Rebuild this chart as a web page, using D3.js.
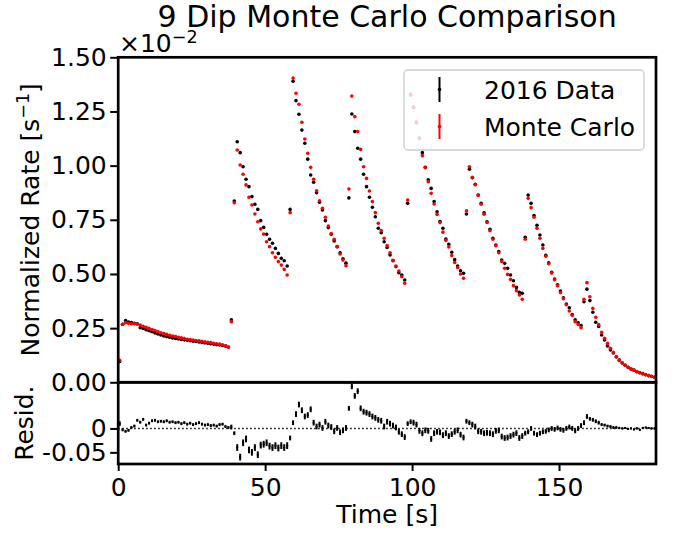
<!DOCTYPE html>
<html><head><meta charset="utf-8">
<script src="https://cdn.jsdelivr.net/npm/d3@7"></script>
<style>body{margin:0;background:#fff}svg{display:block}</style>
</head><body><svg id="c" width="673" height="533"></svg>
<script>
// ---- data (rates in units of 1e-2 s^-1) ----
const timeBins = [0.5,1.5,2.5,3.5,4.5,5.5,6.5,7.5,8.5,9.5,10.5,11.5,12.5,13.5,14.5,15.5,16.5,17.5,18.5,19.5,
20.5,21.5,22.5,23.5,24.5,25.5,26.5,27.5,28.5,29.5,30.5,31.5,32.5,33.5,34.5,35.5,36.5,37.5,38.5,39.5,
40.5,41.5,42.5,43.5,44.5,45.5,46.5,47.5,48.5,49.5,50.5,51.5,52.5,53.5,54.5,55.5,56.5,57.5,58.5,59.5,
60.5,61.5,62.5,63.5,64.5,65.5,66.5,67.5,68.5,69.5,70.5,71.5,72.5,73.5,74.5,75.5,76.5,77.5,78.5,79.5,
80.5,81.5,82.5,83.5,84.5,85.5,86.5,87.5,88.5,89.5,90.5,91.5,92.5,93.5,94.5,95.5,96.5,97.5,98.5,99.5,
100.5,101.5,102.5,103.5,104.5,105.5,106.5,107.5,108.5,109.5,110.5,111.5,112.5,113.5,114.5,115.5,116.5,117.5,118.5,119.5,
120.5,121.5,122.5,123.5,124.5,125.5,126.5,127.5,128.5,129.5,130.5,131.5,132.5,133.5,134.5,135.5,136.5,137.5,138.5,139.5,
140.5,141.5,142.5,143.5,144.5,145.5,146.5,147.5,148.5,149.5,150.5,151.5,152.5,153.5,154.5,155.5,156.5,157.5,158.5,159.5,
160.5,161.5,162.5,163.5,164.5,165.5,166.5,167.5,168.5,169.5,170.5,171.5,172.5,173.5,174.5,175.5,176.5,177.5,178.5,179.5,
180.5,181.5,182.5];

const dataRate = [
0.096,0.268,0.285,0.278,0.276,0.272,0.270,0.252,0.248,0.243,
0.238,0.233,0.228,0.223,0.218,0.214,0.211,0.208,0.205,0.202,
0.200,0.198,0.196,0.194,0.192,0.190,0.188,0.186,0.184,0.182,
0.180,0.178,0.176,0.174,0.172,0.170,0.167,0.163,0.288,0.837,
1.110,1.060,0.995,0.937,0.903,0.857,0.822,0.798,0.746,0.715,
0.683,0.660,0.642,0.618,0.595,0.572,0.561,0.537,0.798,1.390,
1.300,1.237,1.164,1.103,1.030,0.957,0.923,0.875,0.831,0.795,
0.746,0.714,0.683,0.652,0.626,0.598,0.570,0.550,0.851,1.238,
1.157,1.080,1.030,0.960,0.903,0.854,0.808,0.764,0.711,0.690,
0.649,0.622,0.588,0.561,0.534,0.506,0.495,0.472,0.826,1.326,
1.268,1.198,1.127,1.060,0.992,0.935,0.895,0.834,0.787,0.742,
0.711,0.661,0.637,0.600,0.566,0.537,0.515,0.503,0.777,0.983,
0.944,0.914,0.864,0.826,0.782,0.741,0.706,0.665,0.634,0.603,
0.564,0.549,0.526,0.495,0.469,0.438,0.415,0.411,0.669,0.864,
0.826,0.770,0.725,0.680,0.634,0.586,0.551,0.508,0.477,0.450,
0.421,0.390,0.361,0.344,0.313,0.288,0.275,0.262,0.372,0.430,
0.377,0.323,0.277,0.258,0.218,0.195,0.168,0.149,0.135,0.117,
0.102,0.089,0.079,0.069,0.061,0.056,0.049,0.044,0.040,0.035,
0.031,0.028,0.023];

const mcRate = [
0.101,0.268,0.275,0.272,0.270,0.271,0.268,0.264,0.259,0.254,
0.249,0.244,0.239,0.234,0.229,0.225,0.221,0.217,0.214,0.211,
0.208,0.205,0.202,0.199,0.197,0.195,0.193,0.191,0.189,0.187,
0.185,0.183,0.180,0.178,0.176,0.173,0.169,0.162,0.280,0.829,
1.072,1.003,0.960,0.911,0.854,0.818,0.777,0.741,0.708,0.684,
0.649,0.626,0.598,0.577,0.557,0.541,0.521,0.495,0.783,1.404,
1.334,1.283,1.200,1.123,1.057,0.992,0.937,0.884,0.838,0.803,
0.762,0.721,0.686,0.660,0.626,0.592,0.564,0.538,0.892,1.321,
1.226,1.157,1.075,0.995,0.941,0.883,0.834,0.783,0.734,0.700,
0.665,0.631,0.598,0.563,0.536,0.514,0.487,0.457,0.841,1.330,
1.272,1.202,1.125,1.046,0.990,0.926,0.872,0.823,0.775,0.737,
0.693,0.655,0.625,0.585,0.553,0.530,0.500,0.480,0.792,0.995,
0.946,0.912,0.862,0.822,0.776,0.738,0.700,0.660,0.630,0.598,
0.558,0.526,0.498,0.475,0.446,0.423,0.403,0.383,0.660,0.849,
0.806,0.762,0.711,0.665,0.618,0.582,0.547,0.504,0.473,0.446,
0.414,0.386,0.358,0.329,0.309,0.280,0.267,0.252,0.383,0.460,
0.395,0.341,0.300,0.266,0.231,0.203,0.180,0.157,0.138,0.119,
0.104,0.090,0.080,0.069,0.061,0.056,0.049,0.044,0.039,0.035,
0.031,0.027,0.023];

const residual = [
0.010,-0.003,-0.006,-0.004,0.002,0.005,0.017,0.013,0.019,0.007,
0.011,0.016,0.017,0.014,0.015,0.014,0.016,0.013,0.014,0.012,
0.013,0.010,0.012,0.009,0.011,0.008,0.010,0.012,0.009,0.007,
0.008,0.006,0.007,0.005,0.008,0.009,0.004,0.002,0.003,-0.010,
-0.040,-0.060,-0.030,-0.022,-0.045,-0.050,-0.040,-0.055,-0.035,-0.033,
-0.030,-0.037,-0.040,-0.036,-0.041,-0.036,-0.040,-0.036,-0.020,0.012,
0.030,0.050,0.038,0.025,0.028,0.040,0.012,0.004,0.008,0.001,
0.014,0.006,0.003,-0.006,0.001,-0.008,-0.004,0.001,0.042,0.088,
0.068,0.078,0.042,0.035,0.033,0.030,0.025,0.022,0.018,0.016,
0.004,0.014,0.010,0.006,0.002,-0.007,-0.012,-0.018,0.010,0.014,
0.012,0.008,-0.005,-0.010,-0.004,-0.005,-0.022,-0.010,-0.007,-0.008,
-0.014,-0.010,-0.016,-0.012,-0.007,-0.004,-0.013,-0.019,0.015,0.012,
0.008,0.004,-0.006,-0.007,-0.010,-0.009,-0.010,-0.012,-0.005,-0.004,
-0.017,-0.020,-0.019,-0.016,-0.013,-0.010,-0.020,-0.016,-0.010,-0.007,
0.000,-0.010,-0.013,-0.010,-0.007,-0.006,-0.003,0.000,-0.002,0.001,
-0.002,-0.004,0.000,0.003,0.000,-0.005,0.000,0.006,0.012,0.025,
0.020,0.018,0.015,0.012,0.008,0.007,0.005,0.004,0.002,0.002,
0.001,0.000,0.001,-0.001,0.000,-0.002,0.000,-0.003,0.001,0.002,
0.001,0.000,0.000];

const residualErr = [
0.005,0.003,0.003,0.003,0.003,0.003,0.003,0.003,0.003,0.003,
0.003,0.003,0.003,0.003,0.003,0.003,0.003,0.003,0.003,0.003,
0.003,0.003,0.003,0.003,0.003,0.003,0.003,0.003,0.003,0.003,
0.003,0.003,0.003,0.003,0.003,0.003,0.003,0.003,0.005,0.004,
0.007,0.007,0.007,0.007,0.007,0.007,0.007,0.007,0.007,0.007,
0.007,0.007,0.007,0.007,0.007,0.007,0.007,0.007,0.005,0.005,
0.006,0.006,0.006,0.006,0.006,0.006,0.006,0.006,0.006,0.006,
0.006,0.006,0.006,0.006,0.006,0.006,0.006,0.006,0.005,0.006,
0.006,0.006,0.006,0.006,0.006,0.006,0.006,0.006,0.006,0.006,
0.006,0.006,0.006,0.006,0.006,0.006,0.006,0.006,0.005,0.005,
0.006,0.006,0.006,0.006,0.006,0.006,0.006,0.006,0.006,0.006,
0.006,0.006,0.006,0.006,0.006,0.006,0.006,0.006,0.005,0.005,
0.006,0.006,0.006,0.006,0.006,0.006,0.006,0.006,0.006,0.006,
0.006,0.006,0.006,0.006,0.006,0.006,0.006,0.006,0.005,0.005,
0.005,0.005,0.005,0.005,0.005,0.005,0.005,0.005,0.005,0.005,
0.005,0.005,0.005,0.005,0.005,0.005,0.005,0.005,0.005,0.005,
0.004,0.004,0.004,0.004,0.003,0.003,0.003,0.003,0.003,0.003,
0.002,0.002,0.002,0.002,0.002,0.002,0.002,0.002,0.002,0.002,
0.002,0.002,0.002];

const xTicks = [0, 50, 100, 150];
const yTicksMain = [0, 0.25, 0.5, 0.75, 1.0, 1.25, 1.5];
const yTickLabelsMain = ["0.00","0.25","0.50","0.75","1.00","1.25","1.50"];
const yTicksResid = [-0.05, 0];
const yTickLabelsResid = ["-0.05", "0"];
const seriesNames = ["2016 Data", "Monte Carlo"];
const seriesColors = ["#000000", "#ff0000"];

// ---- layout ----
const FONT = "DejaVu Sans";
const L = 118.2, R = 656, T = 57.3, MB = 382.3, RB = 464;
const svg = d3.select("#c");
svg.append("rect").attr("width",673).attr("height",533).attr("fill","#fff");

const x = d3.scaleLinear().domain([0, 183]).range([L, R]);
const y = d3.scaleLinear().domain([0, 1.5]).range([MB, T]);
const yr = d3.scaleLinear().domain([-0.0744, 0.0965]).range([RB, MB]);

function styleAxis(g){
  g.attr("font-family", FONT).attr("font-size", 25);
  g.select(".domain").remove();
  g.selectAll(".tick line").attr("stroke","#000").attr("stroke-width",2);
  g.selectAll(".tick text").attr("fill","#000");
}

// residual zero line
svg.append("line").attr("x1",L).attr("x2",R).attr("y1",yr(0)).attr("y2",yr(0))
  .attr("stroke","#000").attr("stroke-width",1.5).attr("stroke-dasharray","1.5,2.5");

// residual error bars
const rg = svg.append("g");
rg.selectAll("line").data(timeBins).join("line")
  .attr("x1",(d)=>x(d)).attr("x2",(d)=>x(d))
  .attr("y1",(d,i)=>yr(residual[i]-residualErr[i]))
  .attr("y2",(d,i)=>yr(residual[i]+residualErr[i]))
  .attr("stroke","#000").attr("stroke-width",2);
rg.selectAll("circle").data(timeBins).join("circle")
  .attr("cx",(d)=>x(d)).attr("cy",(d,i)=>yr(residual[i])).attr("r",1.1).attr("fill","#000");

// main points
const series = [dataRate, mcRate];
series.forEach((vals, si) => {
  svg.append("g").selectAll("circle").data(timeBins).join("circle")
    .attr("cx",(d)=>x(d)).attr("cy",(d,i)=>y(vals[i])).attr("r",1.8)
    .attr("fill", seriesColors[si]);
});

// axes
const gyl = svg.append("g").attr("transform",`translate(${L},0)`)
  .call(d3.axisLeft(y).tickValues(yTicksMain).tickFormat((d,i)=>yTickLabelsMain[i]).tickSize(8).tickPadding(3.5));
styleAxis(gyl);
const gyr = svg.append("g").attr("transform",`translate(${L},0)`)
  .call(d3.axisLeft(yr).tickValues(yTicksResid).tickFormat((d,i)=>yTickLabelsResid[i]).tickSize(8).tickPadding(3.5));
styleAxis(gyr);
const gx = svg.append("g").attr("transform",`translate(0,${RB})`)
  .call(d3.axisBottom(x).tickValues(xTicks).tickFormat(d3.format("d")).tickSize(7).tickPadding(7));
styleAxis(gx);

// frames
svg.append("rect").attr("x",L).attr("y",T).attr("width",R-L).attr("height",MB-T)
  .attr("fill","none").attr("stroke","#000").attr("stroke-width",2.7);
svg.append("rect").attr("x",L).attr("y",MB).attr("width",R-L).attr("height",RB-MB)
  .attr("fill","none").attr("stroke","#000").attr("stroke-width",2.7);

// legend
const lg = svg.append("g");
lg.append("rect").attr("x",404).attr("y",70).attr("width",240).attr("height",80).attr("rx",4)
  .attr("fill","#fff").attr("fill-opacity",0.8).attr("stroke","#cccccc").attr("stroke-width",1.3);
seriesNames.forEach((name, i) => {
  const cy = 89.5 + i*37;
  lg.append("line").attr("x1",439.5).attr("x2",439.5).attr("y1",cy-12.5).attr("y2",cy+12.5)
    .attr("stroke",seriesColors[i]).attr("stroke-width",2);
  lg.append("circle").attr("cx",439.5).attr("cy",cy).attr("r",1.8).attr("fill",seriesColors[i]);
  lg.append("text").attr("x",484).attr("y",cy+9).attr("font-family",FONT).attr("font-size",25)
    .attr("fill","#000").text(name);
});

// title & labels
svg.append("text").attr("x",(L+R)/2).attr("y",27).attr("text-anchor","middle")
  .attr("font-family",FONT).attr("font-size",30).attr("fill","#000").text("9 Dip Monte Carlo Comparison");

const off = svg.append("text").attr("x",119).attr("y",52).attr("font-family",FONT).attr("font-size",25).attr("fill","#000");
off.append("tspan").text("×10");
off.append("tspan").attr("font-size",17.5).attr("dy",-9).text("−2");

const yl = svg.append("text").attr("transform",`translate(39,${(T+MB)/2}) rotate(-90)`)
  .attr("text-anchor","middle").attr("font-family",FONT).attr("font-size",25).attr("fill","#000");
yl.append("tspan").text("Normalized Rate [s");
yl.append("tspan").attr("font-size",17.5).attr("dy",-10).text("−1");
yl.append("tspan").attr("dy",10).text("]");

svg.append("text").attr("transform",`translate(33,${(MB+RB)/2}) rotate(-90)`)
  .attr("text-anchor","middle").attr("font-family",FONT).attr("font-size",25).attr("fill","#000").text("Resid.");

svg.append("text").attr("x",(L+R)/2).attr("y",523).attr("text-anchor","middle")
  .attr("font-family",FONT).attr("font-size",25).attr("fill","#000").text("Time [s]");
</script></body></html>
